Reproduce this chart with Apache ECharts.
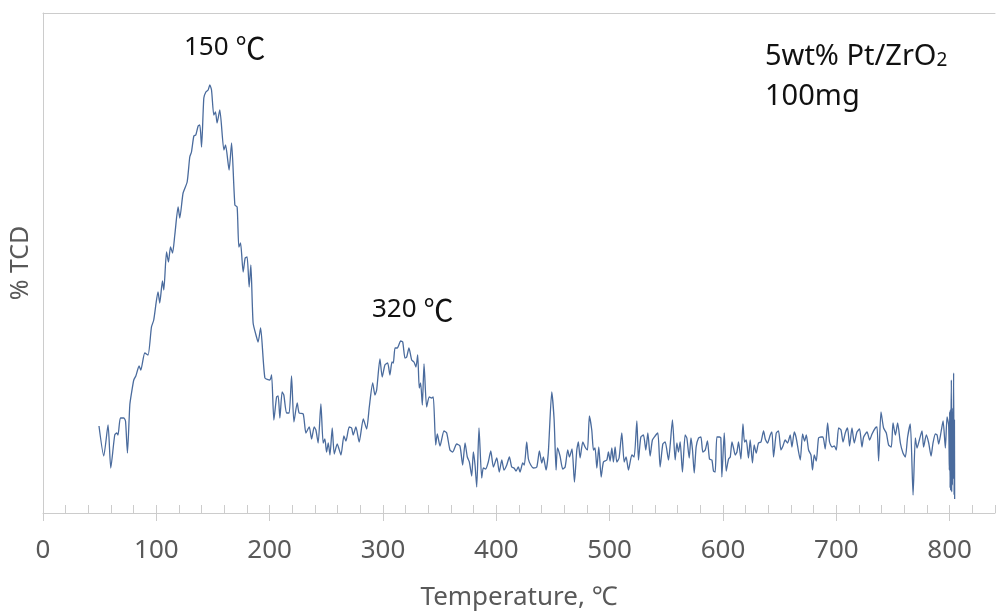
<!DOCTYPE html>
<html>
<head>
<meta charset="utf-8">
<title>TPR 5wt% Pt/ZrO2</title>
<script src="https://cdn.jsdelivr.net/npm/echarts@6/dist/echarts.min.js"></script>
<style>
  html, body { margin: 0; padding: 0; background: #fff; }
  #chart { width: 999px; height: 612px; }
</style>
</head>
<body>
<div id="chart"></div>
<script>
// [temperature ℃, TCD signal (arb.)]
var rampAndPeak150 = [
  [49.4,17.4],[53.6,11.4],[57.4,17.6],[59.8,9.0],[63.3,15.6],[65.1,16.0],[66.2,15.6],[68.3,19.0],[71.3,19.0],[72.8,18.4],
  [74.5,12.0],[76.6,21.6],[78.1,24.0],[80.1,26.6],[81.9,27.4],[84.8,29.4],[86.3,28.6],[89.8,32.0],[92.7,31.6],[95.7,37.2],
  [97.7,38.6],[101.5,44.2],[103.0,42.0],[105.4,46.4],[106.6,44.6],[109.0,52.2],[110.7,50.2],[112.5,53.2],[114.3,52.0],[116.3,55.6],
  [119.2,61.2],[120.7,59.0],[123.6,64.0],[127.2,66.2],[129.5,71.2],[131.0,72.2],[133.1,75.4],[134.8,75.6],[136.9,77.4],[138.4,77.6],
  [139.9,73.2],[141.9,83.0],[143.7,84.2],[145.7,84.6],[147.2,85.6],[148.7,84.6],[150.7,79.6],[152.2,80.2],[153.6,78.0],[156.0,80.6],
  [159.6,72.6],[161.1,73.6],[164.2,68.6],[166.4,74.0],[169.3,61.6],[171.3,61.2],[172.8,53.2],[174.3,54.0],[176.6,48.2],[178.4,51.0],
  [180.1,51.2],[181.9,45.2],[183.4,49.6],[185.4,38.0],[188.4,35.2],[189.8,34.2],[192.0,37.0]
];
var troughAndPeak320 = [
  [195.8,27.0],[200.2,26.6],[201.7,27.6],[203.7,18.6],[206.1,23.2],[207.5,23.4],[209.0,19.0],[211.0,24.2],[212.5,23.6],[214.9,20.0],
  [217.2,20.0],[219.3,27.4],[221.4,18.2],[224.3,22.0],[226.0,20.0],[229.6,19.8],[232.0,16.0],[234.9,17.2],[237.0,14.8],[239.3,17.2],
  [240.8,16.6],[242.8,14.0],[245.2,21.8],[247.2,14.0],[248.7,14.8],[250.2,12.2],[251.7,14.0],[253.2,11.6],[255.2,17.0],[257.0,11.8],
  [259.6,13.8],[262.9,11.6],[265.5,15.4],[267.3,14.4],[270.2,17.2],[272.3,17.0],[273.7,15.6],[276.1,17.2],[279.0,14.2],[282.6,18.8],
  [285.6,16.8],[287.9,21.2],[290.9,26.0],[292.9,23.6],[294.4,24.6],[297.3,30.8],[299.3,27.2],[301.7,29.6],[304.1,30.0],[306.1,27.6],
  [307.9,30.2],[309.1,30.0],[310.6,33.0],[312.6,33.0],[315.6,34.4],[317.4,34.2],[319.4,31.0],[320.9,31.2],[322.9,33.0],[325.3,30.6],
  [327.3,30.2],[329.1,29.2],[330.6,31.6],[332.0,25.0],[333.2,26.0],[334.7,21.6],[336.2,29.8],[338.5,21.2],[340.8,23.2],[343.0,23.0],
  [344.4,23.2],[346.5,13.6],[347.9,15.8],[350.3,13.4]
];
var baselineLow = [
  [353.8,16.4],[356.2,16.0],[359.1,12.6],[361.5,12.2],[365.0,13.8],[367.9,13.4],[370.3,9.6],[372.4,14.0],[374.4,11.2],[376.2,10.2],
  [378.3,7.4],[379.7,12.2],[381.2,9.6],[382.7,5.2],[384.7,17.0],[387.1,7.0],[388.5,9.0],[390.6,8.8],[392.9,10.2],[395.1,12.4],
  [397.4,9.2],[400.4,11.0],[402.6,8.2],[404.8,10.6],[406.8,8.6],[409.2,9.6],[411.5,11.2],[413.6,9.2],[415.6,9.0],[417.4,8.4],
  [419.4,9.2],[420.9,8.2],[423.3,10.0],[424.7,9.6],[426.8,14.2],[428.3,10.8],[430.4,9.6],[432.7,9.0],[435.7,9.2],[438.0,12.4],
  [440.1,10.0],[441.5,11.2],[443.9,8.6],[445.9,12.2],[448.9,24.2],[451.0,18.6],[452.7,8.6],[453.9,13.0],[456.2,11.4],[458.6,8.8],
  [460.7,9.2],[463.0,12.6],[464.5,11.2],[466.8,12.8],[468.9,6.2],[471.0,12.6],[472.4,14.2],[473.9,11.0],[476.3,14.2],[478.3,13.2],
  [480.4,12.6],[482.1,19.4],[484.2,16.6],[485.7,12.6],[487.1,13.0],[488.7,9.0],[490.4,13.2],[492.5,7.2],[494.5,10.2],[497.5,10.6],
  [498.9,12.2],[500.4,10.4],[501.9,13.0],[503.3,10.2],[504.8,13.2],[506.3,10.2],[508.3,11.0],[510.7,16.0],[512.8,10.2],[514.5,11.2],
  [516.6,8.6],[519.6,11.6],[521.6,11.2],[524.0,18.4],[525.4,10.6],[527.5,15.2],[529.8,15.6],[531.9,12.6],[533.7,16.0],[535.7,11.4],
  [537.7,14.6],[540.1,15.4],[542.5,16.0],[544.5,9.2],[546.9,13.8],[549.0,14.2],[551.9,10.6],[553.4,13.6],[555.4,18.6],[557.8,10.6],
  [559.3,14.0],[560.7,12.2],[562.2,14.2],[564.2,8.2],[566.6,15.6],[568.1,15.0],[570.2,11.0]
];
var baselineHigh = [
  [571.7,15.0],[573.1,12.6],[574.6,8.0],[576.3,13.2],[578.4,15.0],[580.5,15.2],[582.2,12.2],[584.3,12.6],[586.3,14.4],[588.1,10.8],
  [590.2,10.6],[591.6,8.4],[593.1,8.2],[594.6,15.2],[596.9,15.2],[598.1,15.0],[599.0,7.2],[601.1,16.0],[602.8,8.4],[604.9,10.8],
  [606.4,11.2],[607.9,14.2],[609.3,13.0],[610.8,11.6],[612.3,12.2],[613.7,14.2],[615.8,10.8],[617.6,17.8],[619.0,14.2],[620.5,14.6],
  [622.5,11.0],[624.0,14.6],[626.0,10.0],[627.5,13.6],[629.3,12.0],[631.3,14.0],[633.5,14.2],[635.8,16.4],[637.3,14.8],[639.3,14.0],
  [641.7,15.6],[643.2,16.2],[644.6,11.2],[647.0,16.0],[649.0,16.4],[651.1,12.6],[652.9,13.4],[654.9,14.6],[657.0,14.0],[659.3,15.6],
  [660.8,13.2],[662.9,16.2],[664.6,15.0],[666.7,12.2],[668.2,10.6],[670.2,15.8],[672.0,14.4],[673.5,15.6],[675.5,12.6],[677.6,11.6],
  [679.0,8.6],[680.5,11.6],[682.3,10.4],[684.3,15.0],[686.4,15.2],[688.2,15.2],[690.2,12.8],[692.3,18.0],[694.0,14.2],[696.2,13.2],
  [698.2,13.4],[700.0,12.6],[702.0,17.0],[704.1,16.6],[705.9,14.2],[707.9,16.0],[709.9,17.0],[711.7,13.4],[713.8,17.0],[715.8,14.0],
  [718.2,16.2],[720.5,16.8],[722.6,13.2],[724.1,15.2],[727.1,16.2],[729.4,14.6],[731.5,15.8],[734.4,17.0],[735.9,17.2],[737.3,10.4],
  [739.4,20.2],[741.7,17.0],[744.1,16.0],[746.1,13.6],[748.5,13.2],[750.0,18.0],[752.1,15.6],[754.1,18.0],[756.5,14.0],[758.8,12.0],
  [760.9,11.2],[762.9,15.2],[765.3,17.8],[767.7,3.6],[769.7,15.0],[771.2,13.0],[773.5,14.8],[775.6,16.4],[777.0,13.2],[779.4,15.6],
  [781.5,14.0],[783.6,11.4],[785.3,14.0],[787.4,15.8],[788.9,15.6],[790.3,13.8],[792.4,16.2],[794.2,18.4],[796.2,13.0],[797.7,19.2],
  [799.1,17.6]
];
var hold800 = [
  [799.7,8.6],[800.0,20.2],[800.4,5.0],[800.6,20.6],[800.9,4.6],[801.2,18.6],[801.5,26.6],[801.8,4.2],[802.1,21.0],[802.4,5.6],
  [802.6,20.2],[803.0,7.0],[803.3,20.6],[803.5,28.0],[803.9,3.6],[804.2,18.6],[804.4,2.8]
];
var tempTicks = [0, 100, 200, 300, 400, 500, 600, 700, 800];

var tcdData = [].concat(rampAndPeak150, troughAndPeak320, baselineLow, baselineHigh, hold800);

var axisGrey = '#cccccc';
var labelGrey = '#595959';

var myEcharts = echarts.init(document.getElementById('chart'));
var option = {
    animation: false,
    backgroundColor: '#fff',
    grid: { left: 43, right: 4, top: 13, bottom: 99, outerBoundsMode: 'none' },
    xAxis: [{
        type: 'value',
        min: 0,
        max: 840,
        interval: 20,
        axisLine: { show: true, onZero: false, lineStyle: { color: axisGrey, width: 1 } },
        axisTick: { show: true, inside: true, length: 8, lineStyle: { color: axisGrey } },
        axisLabel: {
            customValues: tempTicks,
            color: labelGrey,
            fontFamily: 'Noto Sans',
            fontSize: 26,
            margin: 25
        },
        splitLine: { show: false },
        name: 'Temperature, ℃',
        nameLocation: 'middle',
        nameGap: 72,
        nameTextStyle: { color: labelGrey, fontFamily: 'Noto Sans', fontSize: 26 }
    }, {
        // major ticks continue below the axis line
        type: 'value',
        min: 0,
        max: 840,
        interval: 100,
        position: 'bottom',
        axisLine: { show: false, onZero: false },
        axisTick: { show: true, inside: false, length: 8, customValues: tempTicks, lineStyle: { color: axisGrey } },
        axisLabel: { show: false },
        splitLine: { show: false }
    }, {
        // top border of the plot area
        type: 'value',
        min: 0,
        max: 840,
        position: 'top',
        axisLine: { show: true, onZero: false, lineStyle: { color: axisGrey, width: 1 } },
        axisTick: { show: false },
        axisLabel: { show: false },
        splitLine: { show: false }
    }],
    yAxis: {
        type: 'value',
        min: 0,
        max: 100,
        axisLine: { show: true, onZero: false, lineStyle: { color: axisGrey, width: 1 } },
        axisTick: { show: false },
        axisLabel: { show: false },
        splitLine: { show: false },
        name: '% TCD',
        nameLocation: 'middle',
        nameGap: 10,
        nameRotate: 90,
        nameTextStyle: { color: labelGrey, fontFamily: 'Noto Sans', fontSize: 25 }
    },
    series: [{
        name: 'TCD',
        type: 'line',
        xAxisIndex: 0,
        smooth: 0.2,
        showSymbol: false,
        lineStyle: { color: '#4a6b9d', width: 1.3 },
        data: tcdData
    }],
    graphic: [{
        type: 'text', left: 184, top: 33,
        style: {
            text: '150 {c|℃}', fill: '#111', fontFamily: 'Noto Sans', fontSize: 26,
            rich: { c: { fontFamily: 'Noto Sans CJK SC', fontSize: 30, fill: '#111' } }
        }
    }, {
        type: 'text', left: 372, top: 295,
        style: {
            text: '320 {c|℃}', fill: '#111', fontFamily: 'Noto Sans', fontSize: 26,
            rich: { c: { fontFamily: 'Noto Sans CJK SC', fontSize: 30, fill: '#111' } }
        }
    }, {
        type: 'text', left: 765, top: 42,
        style: {
            text: '5wt% Pt/ZrO{s|2}', fill: '#111', fontFamily: 'Noto Sans', fontSize: 29,
            rich: { s: { fontFamily: 'Noto Sans', fontSize: 19, fill: '#111', padding: [9, 0, 0, 0] } }
        }
    }, {
        type: 'text', left: 765, top: 82,
        style: { text: '100mg', fill: '#111', fontFamily: 'Noto Sans', fontSize: 29 }
    }]
};
myEcharts.setOption(option);
</script>
</body>
</html>
